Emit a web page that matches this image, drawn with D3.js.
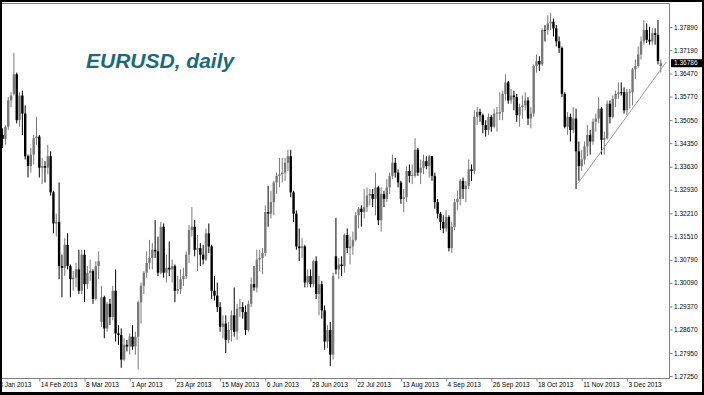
<!DOCTYPE html>
<html>
<head>
<meta charset="utf-8">
<script src="https://cdn.jsdelivr.net/npm/d3@7"></script>
<style>
  body { margin: 0; background: #000; }
  svg { display: block; }
  .axis text { font-family: "Liberation Sans", Arial, sans-serif; font-size: 6.5px; fill: #000; }
  .axis path, .axis line { stroke: #808080; }
</style>
</head>
<body>
<div class="chart"></div>
<script>
// daily bars, 28 Jan 2013 .. 19 Dec 2013 (one line per month)
var open = [
  1.3460,1.3448,1.3485,1.3565,
  1.3585,1.3645,1.3505,1.3580,1.3525,1.3395,1.3365,1.3400,1.3450,1.3455,1.3360,1.3365,1.3360,1.3395,1.3285,1.3190,1.3195,1.3060,1.3055,1.3125,
  1.3060,1.3020,1.3025,1.3050,1.2985,1.3095,1.3005,1.3040,1.3045,1.2960,1.3060,1.2890,1.2965,1.2870,1.2945,1.2905,1.2985,1.2855,1.2850,1.2775,1.2820,
  1.2815,1.2845,1.2815,1.2845,1.2950,1.3000,1.3040,1.3070,1.3085,1.3110,1.3105,1.3040,1.3180,1.3040,1.3055,1.3050,1.3060,1.2985,1.2990,1.3020,1.3030,1.3095,
  1.3170,1.3180,1.3110,1.3115,1.3095,1.3080,1.3160,1.3120,1.2985,1.2970,1.2935,1.2875,1.2885,1.2835,1.2865,1.2910,1.2860,1.2930,1.2935,1.2920,1.2865,1.2945,1.3005,
  1.2995,1.3080,1.3085,1.3100,1.3225,1.3220,1.3255,1.3315,1.3335,1.3340,1.3345,1.3375,1.3395,1.3285,1.3220,1.3120,1.3115,1.3120,1.3010,1.3030,
  1.3005,1.3075,1.2975,1.3005,1.2925,1.2830,1.2865,1.2790,1.3090,1.3050,1.3065,1.3060,1.3155,1.3115,1.3120,1.3140,1.3215,1.3235,1.3225,1.3240,1.3275,1.3280,1.3265,
  1.3300,1.3200,1.3280,1.3265,1.3300,1.3335,1.3375,1.3345,1.3315,1.3265,1.3270,1.3350,1.3335,1.3335,1.3415,1.3345,1.3360,1.3380,1.3365,1.3395,1.3335,1.3255,
  1.3220,1.3195,1.3175,1.3210,1.3115,1.3180,1.3255,1.3265,1.3320,1.3295,1.3305,1.3355,1.3350,1.3515,1.3530,1.3520,1.3490,1.3475,1.3515,1.3485,1.3525,
  1.3525,1.3530,1.3585,1.3620,1.3565,1.3580,1.3575,1.3520,1.3545,1.3550,1.3565,1.3510,1.3525,1.3670,1.3685,1.3675,1.3780,1.3780,1.3800,1.3805,1.3785,1.3745,1.3725,
  1.3585,1.3485,1.3515,1.3475,1.3510,1.3410,1.3365,1.3385,1.3425,1.3460,1.3440,1.3500,1.3510,1.3540,1.3445,1.3450,1.3555,1.3515,1.3570,1.3585,1.3590,
  1.3590,1.3535,1.3590,1.3590,1.3660,1.3670,1.3705,1.3745,1.3780,1.3750,1.3745,1.3770,1.3765,1.3670
];
var high = [
  1.3480,1.3490,1.3575,1.3590,
  1.3710,1.3650,1.3590,1.3595,1.3550,1.3400,1.3420,1.3460,1.3515,1.3460,1.3390,1.3380,1.3430,1.3410,1.3290,1.3220,1.3315,1.3095,1.3145,1.3160,
  1.3065,1.3045,1.3070,1.3110,1.3110,1.3110,1.3060,1.3080,1.3050,1.3075,1.3105,1.3000,1.2970,1.2950,1.2960,1.3000,1.3050,1.2880,1.2870,1.2840,1.2835,
  1.2855,1.2880,1.2860,1.2955,1.3010,1.3045,1.3105,1.3140,1.3130,1.3200,1.3150,1.3195,1.3190,1.3095,1.3135,1.3080,1.3065,1.3030,1.3050,1.3055,1.3105,1.3185,
  1.3240,1.3200,1.3155,1.3130,1.3125,1.3175,1.3190,1.3125,1.3030,1.3010,1.2950,1.2910,1.2910,1.2890,1.2925,1.2995,1.2945,1.2960,1.2950,1.2940,1.2955,1.3025,1.3060,
  1.3110,1.3110,1.3115,1.3245,1.3305,1.3290,1.3320,1.3345,1.3390,1.3390,1.3390,1.3415,1.3415,1.3290,1.3230,1.3175,1.3145,1.3125,1.3050,1.3050,
  1.3080,1.3090,1.3030,1.3015,1.2940,1.2880,1.2890,1.3040,1.3207,1.3085,1.3090,1.3160,1.3175,1.3150,1.3165,1.3225,1.3240,1.3245,1.3295,1.3300,1.3295,1.3295,1.3345,
  1.3305,1.3300,1.3290,1.3325,1.3345,1.3400,1.3390,1.3355,1.3320,1.3295,1.3365,1.3370,1.3370,1.3450,1.3420,1.3385,1.3400,1.3395,1.3400,1.3395,1.3345,1.3265,
  1.3225,1.3215,1.3230,1.3215,1.3195,1.3265,1.3290,1.3325,1.3330,1.3320,1.3385,1.3370,1.3535,1.3545,1.3540,1.3525,1.3505,1.3525,1.3520,1.3540,1.3545,
  1.3590,1.3595,1.3645,1.3625,1.3600,1.3595,1.3585,1.3555,1.3580,1.3590,1.3575,1.3545,1.3675,1.3705,1.3700,1.3785,1.3795,1.3825,1.3832,1.3815,1.3795,1.3760,1.3730,
  1.3590,1.3530,1.3525,1.3545,1.3540,1.3440,1.3415,1.3440,1.3490,1.3475,1.3510,1.3525,1.3575,1.3545,1.3470,1.3565,1.3565,1.3580,1.3595,1.3620,1.3620,
  1.3605,1.3600,1.3600,1.3665,1.3690,1.3730,1.3760,1.3810,1.3800,1.3790,1.3785,1.3785,1.3810,1.3690
];
var low = [
  1.3420,1.3430,1.3475,1.3545,
  1.3580,1.3495,1.3485,1.3460,1.3385,1.3330,1.3345,1.3370,1.3430,1.3330,1.3310,1.3315,1.3340,1.3275,1.3160,1.3150,1.3020,1.2965,1.3030,1.3050,
  1.2965,1.2985,1.2995,1.2975,1.2975,1.2950,1.2990,1.3015,1.2945,1.2955,1.3020,1.2875,1.2840,1.2860,1.2880,1.2895,1.2830,1.2820,1.2750,1.2770,1.2800,
  1.2790,1.2805,1.2790,1.2745,1.2885,1.2975,1.3025,1.3050,1.3050,1.3085,1.3030,1.3035,1.3025,1.3010,1.3030,1.3010,1.2950,1.2975,1.2975,1.3000,1.3020,1.3070,
  1.3150,1.3090,1.3045,1.3060,1.3065,1.3075,1.3100,1.2960,1.2955,1.2920,1.2860,1.2840,1.2795,1.2825,1.2830,1.2845,1.2835,1.2905,1.2900,1.2850,1.2860,1.2935,1.2985,
  1.2980,1.3045,1.3035,1.3090,1.3180,1.3205,1.3215,1.3280,1.3300,1.3315,1.3320,1.3350,1.3270,1.3195,1.3110,1.3075,1.3085,1.2995,1.2995,1.2995,
  1.2995,1.2960,1.2910,1.2900,1.2805,1.2810,1.2755,1.2775,1.3035,1.3020,1.3030,1.3040,1.3100,1.3065,1.3095,1.3135,1.3175,1.3180,1.3205,1.3225,1.3245,1.3240,1.3215,
  1.3185,1.3165,1.3240,1.3255,1.3280,1.3325,1.3330,1.3300,1.3250,1.3225,1.3255,1.3315,1.3310,1.3330,1.3335,1.3310,1.3340,1.3355,1.3330,1.3320,1.3235,1.3205,
  1.3170,1.3160,1.3165,1.3105,1.3100,1.3170,1.3230,1.3245,1.3265,1.3255,1.3295,1.3320,1.3340,1.3490,1.3500,1.3465,1.3455,1.3460,1.3470,1.3480,1.3470,
  1.3505,1.3505,1.3565,1.3555,1.3555,1.3535,1.3500,1.3485,1.3510,1.3535,1.3490,1.3480,1.3515,1.3650,1.3655,1.3670,1.3745,1.3765,1.3780,1.3760,1.3730,1.3710,1.3575,
  1.3480,1.3460,1.3440,1.3465,1.3295,1.3320,1.3350,1.3370,1.3395,1.3400,1.3430,1.3470,1.3495,1.3400,1.3400,1.3445,1.3495,1.3510,1.3545,1.3570,1.3580,
  1.3525,1.3520,1.3540,1.3550,1.3630,1.3665,1.3690,1.3735,1.3740,1.3735,1.3735,1.3735,1.3675,1.3650
];
var close = [
  1.3448,1.3485,1.3565,1.3580,
  1.3645,1.3505,1.3580,1.3525,1.3395,1.3365,1.3400,1.3450,1.3455,1.3360,1.3365,1.3360,1.3395,1.3285,1.3190,1.3195,1.3060,1.3055,1.3125,1.3060,
  1.3020,1.3025,1.3050,1.2985,1.3095,1.3005,1.3040,1.3045,1.2960,1.3060,1.3075,1.2965,1.2870,1.2945,1.2905,1.2985,1.2855,1.2850,1.2775,1.2820,1.2815,
  1.2845,1.2815,1.2845,1.2950,1.3000,1.3040,1.3070,1.3085,1.3110,1.3105,1.3040,1.3180,1.3040,1.3055,1.3050,1.3060,1.2985,1.2990,1.3020,1.3030,1.3095,1.3170,
  1.3180,1.3110,1.3115,1.3095,1.3080,1.3160,1.3120,1.2985,1.2970,1.2935,1.2875,1.2885,1.2835,1.2865,1.2910,1.2860,1.2930,1.2935,1.2920,1.2865,1.2945,1.3005,1.2995,
  1.3080,1.3085,1.3100,1.3225,1.3220,1.3255,1.3315,1.3335,1.3340,1.3345,1.3375,1.3395,1.3285,1.3220,1.3120,1.3115,1.3120,1.3010,1.3030,1.3005,
  1.3075,1.2975,1.3005,1.2925,1.2830,1.2865,1.2790,1.3030,1.3050,1.3065,1.3060,1.3155,1.3115,1.3120,1.3140,1.3215,1.3235,1.3225,1.3240,1.3275,1.3280,1.3265,1.3300,
  1.3200,1.3280,1.3265,1.3300,1.3335,1.3375,1.3345,1.3315,1.3265,1.3270,1.3350,1.3335,1.3338,1.3415,1.3345,1.3360,1.3380,1.3365,1.3395,1.3335,1.3255,1.3220,
  1.3195,1.3175,1.3210,1.3115,1.3180,1.3255,1.3265,1.3320,1.3295,1.3305,1.3355,1.3350,1.3515,1.3530,1.3520,1.3490,1.3475,1.3515,1.3485,1.3525,1.3528,
  1.3530,1.3585,1.3620,1.3565,1.3580,1.3575,1.3520,1.3545,1.3550,1.3565,1.3510,1.3525,1.3670,1.3685,1.3675,1.3780,1.3778,1.3800,1.3805,1.3785,1.3745,1.3725,1.3585,
  1.3485,1.3515,1.3475,1.3510,1.3410,1.3365,1.3385,1.3425,1.3460,1.3440,1.3500,1.3510,1.3540,1.3445,1.3450,1.3555,1.3515,1.3570,1.3585,1.3590,1.3588,
  1.3535,1.3590,1.3592,1.3660,1.3670,1.3705,1.3745,1.3780,1.3750,1.3745,1.3770,1.3765,1.3685,1.36786
];

// time axis labels and the bar index they sit on
var dateLabels = ["23 Jan 2013","14 Feb 2013","8 Mar 2013","1 Apr 2013","23 Apr 2013","15 May 2013","6 Jun 2013",
  "28 Jun 2013","22 Jul 2013","13 Aug 2013","4 Sep 2013","26 Sep 2013","18 Oct 2013","11 Nov 2013","3 Dec 2013"];
var dateIndex = [-3,13,29,45,61,77,93,109,125,141,157,173,189,205,221];

// price axis labels
var priceTicks = [1.37890,1.37190,1.36470,1.35770,1.35050,1.34350,1.33630,1.32930,1.32210,1.31510,1.30790,1.30090,1.29370,1.28670,1.27950,1.27250];
var lastPrice = 1.36786;

// trend line drawn under the Nov-Dec lows: [bar index, price]
var trendStart = [203.5, 1.3310];
var trendEnd = [235, 1.3683];

var width = 704, height = 395;
var plotRight = 669.5, plotBottom = 378.5, plotTop = 3.5;

var svg = d3.select(".chart").append("svg")
  .attr("width", width)
  .attr("height", height);

// black frame and white chart window
svg.append("rect").attr("width", width).attr("height", height).attr("fill", "#000");
svg.append("rect").attr("x", 2).attr("y", 2).attr("width", 700).attr("height", 390).attr("fill", "#fff");

svg.append("clipPath").attr("id", "plot")
  .append("rect").attr("x", 2).attr("y", plotTop).attr("width", plotRight - 2).attr("height", plotBottom - plotTop);

var x = d3.scaleLinear().domain([0, 233]).range([2.6, 660.8]);
var y = d3.scaleLinear().domain([1.2725, 1.3789]).range([376, 27]);

// title
svg.append("text")
  .attr("x", 86)
  .attr("y", 67.5)
  .attr("font-family", "Liberation Sans, Arial, sans-serif")
  .attr("font-size", 21)
  .attr("font-weight", "bold")
  .attr("font-style", "italic")
  .attr("fill", "#1b6a77")
  .text("EURUSD, daily");

// candles: grey for up days, black for down days
var bars = d3.range(open.length);
var candles = svg.append("g").attr("clip-path", "url(#plot)");
var colour = function(i) { return close[i] >= open[i] ? "#787878" : "#000"; };

candles.selectAll(".wick")
  .data(bars)
  .enter()
  .append("line")
  .attr("class", "wick")
  .attr("x1", function(i) { return x(i); })
  .attr("x2", function(i) { return x(i); })
  .attr("y1", function(i) { return y(high[i]); })
  .attr("y2", function(i) { return y(low[i]); })
  .attr("stroke", colour)
  .attr("stroke-width", 1);

candles.selectAll(".body")
  .data(bars)
  .enter()
  .append("rect")
  .attr("class", "body")
  .attr("x", function(i) { return x(i) - 1.2; })
  .attr("width", 2.4)
  .attr("y", function(i) { return y(Math.max(open[i], close[i])); })
  .attr("height", function(i) { return Math.max(1, Math.abs(y(open[i]) - y(close[i]))); })
  .attr("fill", colour);

// trend line
candles.append("line")
  .attr("x1", x(trendStart[0])).attr("y1", y(trendStart[1]))
  .attr("x2", x(trendEnd[0])).attr("y2", y(trendEnd[1]))
  .attr("stroke", "#9a9a9a")
  .attr("stroke-width", 1);

// top border of the chart window
svg.append("line").attr("x1", 2).attr("x2", plotRight).attr("y1", plotTop).attr("y2", plotTop).attr("stroke", "#808080");

// time axis
var xAxis = svg.append("g")
  .attr("class", "axis")
  .attr("transform", "translate(0," + plotBottom + ")")
  .call(d3.axisBottom(x)
    .tickValues(dateIndex)
    .tickFormat(function(d, i) { return dateLabels[i]; })
    .tickSize(3)
    .tickSizeOuter(0));
xAxis.select(".domain").attr("d", "M2,0H" + plotRight);
xAxis.selectAll("text")
  .attr("text-anchor", "start")
  .attr("x", 1)
  .attr("y", 4)
  .attr("dy", "0.71em");

// price axis
var yAxis = svg.append("g")
  .attr("class", "axis")
  .attr("transform", "translate(" + plotRight + ",0)")
  .call(d3.axisRight(y)
    .tickValues(priceTicks)
    .tickFormat(d3.format(".5f"))
    .tickSize(3)
    .tickPadding(1.5)
    .tickSizeOuter(0));
yAxis.select(".domain").attr("d", "M0," + plotTop + "V" + plotBottom);

// last price marker
svg.append("rect")
  .attr("x", 671).attr("y", y(lastPrice) - 4)
  .attr("width", 31).attr("height", 8)
  .attr("fill", "#000");
svg.append("text")
  .attr("x", 674).attr("y", y(lastPrice))
  .attr("dy", "0.34em")
  .attr("font-family", "Liberation Sans, Arial, sans-serif")
  .attr("font-size", 6.5)
  .attr("fill", "#fff")
  .text(d3.format(".5f")(lastPrice));
</script>
</body>
</html>
